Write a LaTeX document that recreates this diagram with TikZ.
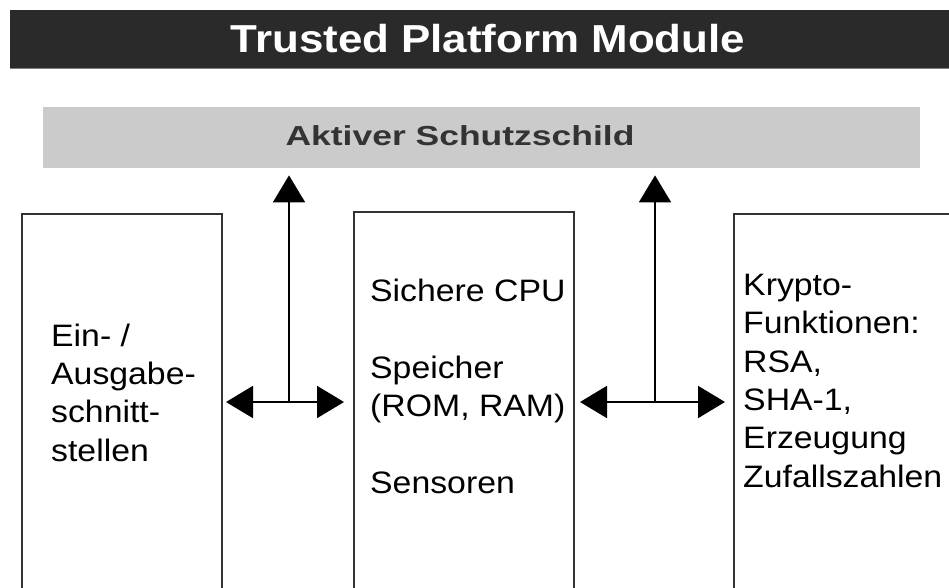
\documentclass[tikz,border=0pt]{standalone}
\usepackage{fontspec}
\setmainfont{Liberation Sans}[FakeStretch=1.09]
\newfontfamily\kopffont{Liberation Sans}
\usetikzlibrary{arrows.meta,positioning}
\definecolor{balken}{HTML}{2A2A2A}
\definecolor{schild}{HTML}{CBCBCB}
\definecolor{linie}{HTML}{333333}
\tikzset{
	box/.style={draw=linie, line width=2pt, anchor=north west, inner sep=0pt, minimum width=200pt, minimum height=420pt},
	txt/.style={anchor=base west, align=left, inner sep=0pt, font=\fontsize{31}{38.3}\selectfont},
	pfeil/.style={draw=black, line width=2pt, -{Triangle[length=27pt,width=32pt]}}
}

\begin{document}
\begin{tikzpicture}[x=1pt,y=-1pt]
		\useasboundingbox (0,0) rectangle (949,588);
		\clip (0,0) rectangle (949,588);

		% Kopfzeile und Schutzschild
		\draw (10,10) node [fill=balken, anchor=north west, inner sep=0pt, minimum width=945pt, minimum height=58pt] (titel) {};
		\draw[gray, line width=1.5pt] (titel.south west) -- (titel.south east);
		\draw (488,53) node [anchor=base, inner sep=0pt, text=white, font=\kopffont\bfseries\fontsize{39}{45}\selectfont] (titeltext) {\scalebox{1.125}[1]{Trusted Platform Module}};
		\draw (43,107) node [fill=schild, anchor=north west, inner sep=0pt, minimum width=877pt, minimum height=61pt] (schild) {};
		\draw (460,146) node [anchor=base, inner sep=0pt, text=linie, font=\kopffont\bfseries\fontsize{27.5}{32}\selectfont] (schildtext) {\scalebox{1.29}[1]{Aktiver Schutzschild}};

		% Bausteine
		\draw (21,213) node [box] (io) {};
		\draw (353,211) node [box, minimum width=220pt] (cpu) {};
		\draw (733,213) node [box, minimum width=260pt] (krypto) {};

		\draw (51,461) node [txt] (iotext) {Ein- /\\Ausgabe-\\schnitt-\\stellen};
		\draw (370,493) node [txt] (cputext) {Sichere CPU\\[38.3pt]Speicher\\(ROM, RAM)\\[38.3pt]Sensoren};
		\draw (743,487) node [txt] (kryptotext) {Krypto-\\Funktionen:\\RSA,\\SHA-1,\\Erzeugung\\Zufallszahlen};

		\coordinate (jl) at (289,402);
		\coordinate (jr) at (655,402);

		\path
		(jl) edge [pfeil, shorten >=3pt] (jl -| io.east)
		     edge [pfeil, shorten >=9pt] (jl -| cpu.west)
		     edge [pfeil, shorten >=7pt] (jl |- schild.south)
		(jr) edge [pfeil, shorten >=5pt] (jr -| cpu.east)
		     edge [pfeil, shorten >=8pt] (jr -| krypto.west)
		     edge [pfeil, shorten >=7pt] (jr |- schild.south);
	\end{tikzpicture}
\end{document}
